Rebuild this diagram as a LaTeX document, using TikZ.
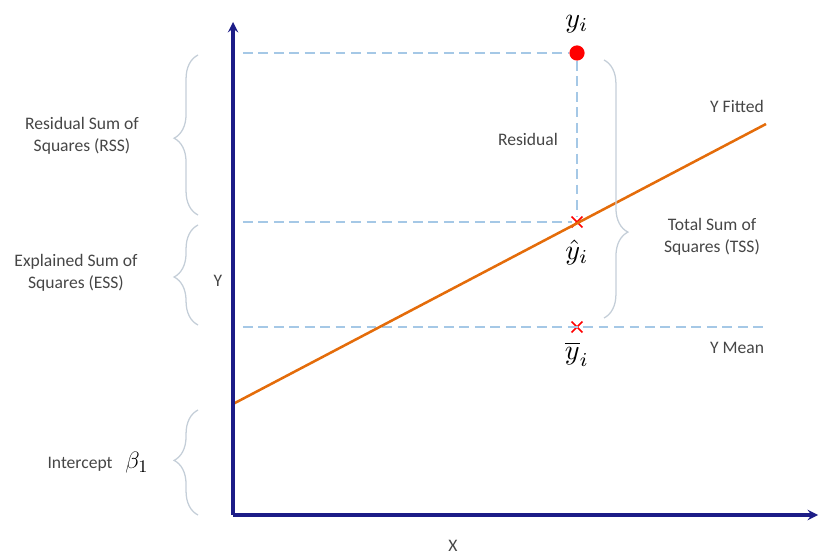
\documentclass[tikz,border=0pt]{standalone}
\usepackage{amsmath, amssymb, graphicx}
\usepackage{fontspec}
\setmainfont{Carlito}
\usepackage{tikz}
\usetikzlibrary{arrows, positioning, shapes.misc, decorations.pathreplacing}

\definecolor{axisblue}{RGB}{28,28,135}
\definecolor{fitorange}{RGB}{228,108,10}
\definecolor{guideblue}{RGB}{165,200,230}
\definecolor{bracegrey}{RGB}{196,206,216}
\definecolor{textgrey}{RGB}{70,70,70}
\newcommand{\bigmath}[1]{\scalebox{2}{$#1$}}

\begin{document}
\begin{tikzpicture}[x=0.025cm, y=-0.025cm, >=stealth,
    lbl/.style={text=textgrey, font=\fontsize{12.5}{16}\selectfont, align=center},
    mlbl/.style={inner sep=0pt},
    guide/.style={guideblue, line width=1pt, dash pattern=on 7pt off 4pt},
    curly/.style={bracegrey, line width=0.9pt, decorate, decoration={brace, amplitude=17pt, #1}},
    pt/.style={circle, fill=red, inner sep=0pt, minimum size=0.38cm},
    xmark/.style={cross out, draw=red, line width=1.2pt, inner sep=0pt, minimum size=6.5pt}]
                \useasboundingbox (0,0) rectangle (823,558);
                \coordinate (o) at (233,515);
                \coordinate (b1) at (233,404);
                \coordinate (fitend) at (766,124);
                \coordinate (meanend) at (766,327);

                % observed, fitted and mean points
                \node[pt] (yi) at (577,53) {};
                \node[xmark] (yhat) at (577,222) {};
                \node[xmark] (ybar) at (577,327) {};
                \node[mlbl] (yilbl) at (577,24) {\bigmath{y_i}};
                \node[mlbl] (yhatlbl) at (577,252) {\bigmath{\hat{y}_i}};
                \node[mlbl] (ybarlbl) at (577,354) {\bigmath{\overline{y}_i}};

                \draw[guide] ([xshift=7]o |- yi) -- (yi);
                \draw[guide] ([xshift=7]o |- yhat) -- (yhat);
                \draw[guide] ([xshift=7]o |- ybar) -- (meanend);
                \draw[guide] (yi) -- (yhat);

                \draw[fitorange, line width=1.8pt] (b1) -- (fitend);
                \draw[->, axisblue, line width=2.2pt] (o) -- (233,22);
                \draw[->, axisblue, line width=2.2pt] (o) -- (818,515);

                % braces
                \draw[curly={aspect=0.48}] (198,215) -- (198,55);
                \draw[curly={aspect=0.48}] (198,325) -- (198,225);
                \draw[curly={aspect=0.52}] (198,515) -- (198,410);
                \draw[curly={aspect=0.667}] (604,60) -- (604,318);

                \node[lbl] (rss) at (82,136) {Residual Sum of\\Squares (RSS)};
                \node[lbl] (ess) at (76,273) {Explained Sum of\\Squares (ESS)};
                \node[lbl] (icpt) at (98,463) {Intercept \enspace\textcolor{black}{\scalebox{1.4}{$\beta_1$}}};
                \node[lbl] (tss) at (712,237) {Total Sum of\\Squares (TSS)};
                \node[lbl] (resid) at (528,139) {Residual};
                \node[lbl] (yfit) at (737,106) {Y Fitted};
                \node[lbl] (ymean) at (737,348) {Y Mean};
                \node[lbl] (ylbl) at (218,281) {Y};
                \node[lbl] (xlbl) at (453,546) {X};
            \end{tikzpicture}
\end{document}
